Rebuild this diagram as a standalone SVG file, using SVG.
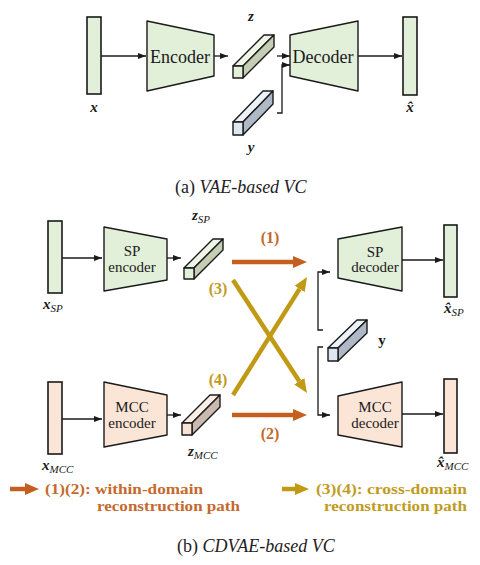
<svg xmlns="http://www.w3.org/2000/svg" width="480" height="565" viewBox="0 0 480 565">
<style>
.bg{fill:#ffffff}
.vec{stroke:#1a1a1a;stroke-width:1.6}
.g{fill:#e2efd9}
.p{fill:#fbe5d6}
.blk{fill:none;stroke:#1a1a1a;stroke-width:1.3}
.lbl{font-family:"Liberation Serif","Times New Roman","DejaVu Serif",serif;fill:#1a1a1a}
.mi{font-family:"Liberation Serif","Times New Roman","DejaVu Serif",serif;font-weight:bold;font-style:italic;fill:#1a1a1a}
.sub{font-family:"Liberation Serif","Times New Roman","DejaVu Serif",serif;font-style:italic;fill:#1a1a1a;font-size:11px}
.cap{font-family:"Liberation Serif","Times New Roman","DejaVu Serif",serif;font-size:18px;fill:#222}
.or{stroke:#c55f1f;stroke-width:4.5;fill:none}
.gd{stroke:#c09a14;stroke-width:4.5;fill:none}
.ortx{font-family:"Liberation Serif","Times New Roman","DejaVu Serif",serif;font-weight:bold;fill:#c5692e;font-size:16px}
.gdtx{font-family:"Liberation Serif","Times New Roman","DejaVu Serif",serif;font-weight:bold;fill:#bf9b1e;font-size:16px}
.lg{font-size:15px}
.pe{stroke:#1a1a1a;stroke-width:1.4;stroke-linejoin:round}
</style>
<defs>
<marker id="ah" viewBox="0 0 8 6" refX="8" refY="3" markerWidth="8" markerHeight="6" markerUnits="userSpaceOnUse" orient="auto"><path d="M0,0 L8,3 L0,6 z" fill="#1a1a1a"/></marker>
<marker id="ahO" viewBox="0 0 14 12" refX="0" refY="6" markerWidth="14" markerHeight="12" markerUnits="userSpaceOnUse" orient="auto"><path d="M0,0 L14,6 L0,12 z" fill="#c55f1f"/></marker>
<marker id="ahG" viewBox="0 0 14 12" refX="0" refY="6" markerWidth="14" markerHeight="12" markerUnits="userSpaceOnUse" orient="auto"><path d="M0,0 L14,6 L0,12 z" fill="#c09a14"/></marker>
</defs>
<rect class="bg" x="0" y="0" width="480" height="565"/>

<!-- ===== (a) VAE-based VC ===== -->
<g id="a-x">
<rect class="g vec" x="87" y="17" width="14" height="77"/>
<text class="mi" x="94" y="112" font-size="15" text-anchor="middle">x</text>
</g>
<g id="a-encoder">
<polygon class="g pe" points="147,21 214,35 214,76 147,91"/>
<text class="lbl" x="180" y="63" font-size="18" text-anchor="middle">Encoder</text>
</g>
<g id="a-z">
<polygon class="pe" fill="#eef5e7" points="233,66 264,35 274,35 243,66"/>
<polygon class="pe" fill="#c6cdb5" points="243,66 274,35 274,47 243,78"/>
<rect class="pe" fill="#e2efd9" x="233" y="66" width="10" height="12"/>
<text class="mi" x="251" y="21" font-size="15" text-anchor="middle">z</text>
</g>
<g id="a-y">
<polygon class="pe" fill="#edf2f8" points="233,122 263,91 273,91 243,122"/>
<polygon class="pe" fill="#aeb8c6" points="243,122 273,91 273,104 243,135"/>
<rect class="pe" fill="#dde6f1" x="233" y="122" width="10" height="13"/>
<text class="mi" x="251" y="152" font-size="15" text-anchor="middle">y</text>
</g>
<g id="a-decoder">
<polygon class="g pe" points="290,35 358,21 358,91 290,76"/>
<text class="lbl" x="323" y="63" font-size="18" text-anchor="middle">Decoder</text>
</g>
<g id="a-xhat">
<rect class="g vec" x="403" y="17" width="14" height="78"/>
<text class="mi" x="410" y="112" font-size="15" text-anchor="middle">x̂</text>
</g>
<g id="a-connectors">
<line class="blk" x1="101" y1="56" x2="146" y2="56" marker-end="url(#ah)"/>
<line class="blk" x1="214" y1="56" x2="228" y2="56" marker-end="url(#ah)"/>
<line class="blk" x1="277" y1="56" x2="290" y2="56" marker-end="url(#ah)"/>
<polyline class="blk" points="277,113 282,113 282,65 290,65" marker-end="url(#ah)"/>
<line class="blk" x1="358" y1="56" x2="402" y2="56" marker-end="url(#ah)"/>
</g>
<text class="cap" x="175" y="193">(a) <tspan font-style="italic">VAE-based VC</tspan></text>

<!-- ===== (b) CDVAE-based VC ===== -->
<g id="b-xsp">
<rect class="g vec" x="48" y="221" width="14" height="72"/>
<text x="43" y="309"><tspan class="mi" font-size="15">x</tspan><tspan class="sub" dy="3">SP</tspan></text>
</g>
<g id="b-spenc">
<polygon class="g pe" points="104,227 167,239 167,280 104,291"/>
<text class="lbl" x="132" y="256" font-size="15" text-anchor="middle">SP</text>
<text class="lbl" x="132" y="272" font-size="15" text-anchor="middle">encoder</text>
</g>
<g id="b-zsp">
<polygon class="pe" fill="#eef5e7" points="184,268 213,239 223,239 194,268"/>
<polygon class="pe" fill="#c6cdb5" points="194,268 223,239 223,250 194,279"/>
<rect class="pe" fill="#e2efd9" x="184" y="268" width="10" height="11"/>
<text x="192" y="220"><tspan class="mi" font-size="15">z</tspan><tspan class="sub" dy="3">SP</tspan></text>
</g>
<g id="b-xmcc">
<rect class="p vec" x="48" y="382" width="14" height="72"/>
<text x="42" y="470"><tspan class="mi" font-size="15">x</tspan><tspan class="sub" dy="3">MCC</tspan></text>
</g>
<g id="b-mccenc">
<polygon class="p pe" points="104,382 167,395 167,435 104,447"/>
<text class="lbl" x="132" y="412" font-size="15" text-anchor="middle">MCC</text>
<text class="lbl" x="132" y="428" font-size="15" text-anchor="middle">encoder</text>
</g>
<g id="b-zmcc">
<polygon class="pe" fill="#fbeee6" points="182,423 210,395 220,395 192,423"/>
<polygon class="pe" fill="#c9b9ae" points="192,423 220,395 220,407 192,435"/>
<rect class="pe" fill="#f7e2d5" x="182" y="423" width="10" height="12"/>
<text x="188" y="456"><tspan class="mi" font-size="15">z</tspan><tspan class="sub" dy="3">MCC</tspan></text>
</g>
<g id="b-y">
<polygon class="pe" fill="#edf2f8" points="328,348 357,320 367,320 338,348"/>
<polygon class="pe" fill="#aeb8c6" points="338,348 367,320 367,333 338,361"/>
<rect class="pe" fill="#dde6f1" x="328" y="348" width="10" height="13"/>
<text class="lbl" x="382" y="345" font-size="15" font-weight="bold" text-anchor="middle">y</text>
</g>
<g id="b-spdec">
<polygon class="g pe" points="338,239 402,227 402,291 338,278"/>
<text class="lbl" x="375" y="257" font-size="15" text-anchor="middle">SP</text>
<text class="lbl" x="375" y="272" font-size="15" text-anchor="middle">decoder</text>
</g>
<g id="b-mccdec">
<polygon class="p pe" points="338,396 402,382 402,447 338,435"/>
<text class="lbl" x="375" y="412" font-size="15" text-anchor="middle">MCC</text>
<text class="lbl" x="375" y="428" font-size="15" text-anchor="middle">decoder</text>
</g>
<g id="b-xhatsp">
<rect class="g vec" x="444" y="225" width="13" height="72"/>
<text x="444" y="313"><tspan class="mi" font-size="15">x̂</tspan><tspan class="sub" dy="3">SP</tspan></text>
</g>
<g id="b-xhatmcc">
<rect class="p vec" x="444" y="379" width="13" height="74"/>
<text x="437" y="467"><tspan class="mi" font-size="15">x̂</tspan><tspan class="sub" dy="3">MCC</tspan></text>
</g>
<g id="b-connectors">
<line class="blk" x1="62" y1="258" x2="102" y2="258" marker-end="url(#ah)"/>
<line class="blk" x1="167" y1="258" x2="181" y2="258" marker-end="url(#ah)"/>
<line class="blk" x1="62" y1="419" x2="102" y2="419" marker-end="url(#ah)"/>
<line class="blk" x1="167" y1="415" x2="181" y2="415" marker-end="url(#ah)"/>
<line class="blk" x1="402" y1="260" x2="443" y2="260" marker-end="url(#ah)"/>
<line class="blk" x1="402" y1="414" x2="443" y2="414" marker-end="url(#ah)"/>
<polyline class="blk" points="323,330 318,330 318,272 330,272" marker-end="url(#ah)"/>
<polyline class="blk" points="323,347 318,347 318,415 330,415" marker-end="url(#ah)"/>
<line class="or" x1="232" y1="262" x2="293" y2="262" marker-end="url(#ahO)"/>
<line class="or" x1="232" y1="415" x2="293" y2="415" marker-end="url(#ahO)"/>
<line class="gd" x1="233" y1="280" x2="299.3" y2="381.3" marker-end="url(#ahG)"/>
<line class="gd" x1="233" y1="395" x2="299.6" y2="288.9" marker-end="url(#ahG)"/>
<text class="ortx" x="270" y="243" text-anchor="middle">(1)</text>
<text class="ortx" x="270" y="439" text-anchor="middle">(2)</text>
<text class="gdtx" x="218" y="294" text-anchor="middle">(3)</text>
<text class="gdtx" x="218" y="385" text-anchor="middle">(4)</text>
</g>
<g id="legend">
<line class="or" x1="10" y1="489" x2="25" y2="489" marker-end="url(#ahO)"/>
<text class="ortx lg" x="45" y="494" textLength="158" lengthAdjust="spacingAndGlyphs">(1)(2): within-domain</text>
<text class="ortx lg" x="97" y="511" textLength="143" lengthAdjust="spacingAndGlyphs">reconstruction path</text>
<line class="gd" x1="282" y1="489" x2="295" y2="489" marker-end="url(#ahG)"/>
<text class="gdtx lg" x="316" y="494" textLength="151" lengthAdjust="spacingAndGlyphs">(3)(4): cross-domain</text>
<text class="gdtx lg" x="324" y="511" textLength="143" lengthAdjust="spacingAndGlyphs">reconstruction path</text>
</g>
<text class="cap" x="177" y="552">(b) <tspan font-style="italic">CDVAE-based VC</tspan></text>
</svg>
